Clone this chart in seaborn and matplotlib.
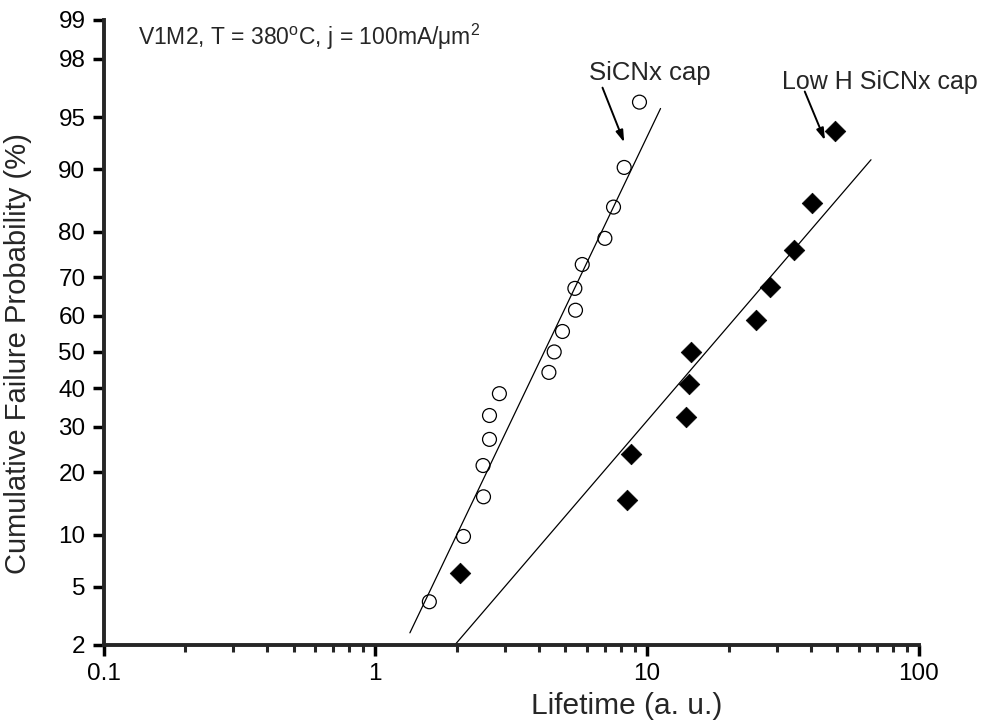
import numpy as np
import pandas as pd
import matplotlib
matplotlib.use("Agg")
import matplotlib.pyplot as plt
import matplotlib.ticker as mticker
import seaborn as sb
from statistics import NormalDist

# lifetimes (a.u.) and cumulative failure (%)
sicn_t = [1.58, 2.11, 2.50, 2.49, 2.63, 2.63, 2.86, 4.35, 4.55, 4.88,
          5.45, 5.42, 5.77, 6.99, 7.52, 8.23, 9.37]
sicn_p = [4.0, 9.8, 15.5, 21.3, 27.0, 32.8, 38.5, 44.3, 50.0, 55.7,
          61.5, 67.2, 73.0, 78.7, 84.5, 90.2, 96.0]

lowh_t = [2.04, 8.42, 8.71, 13.9, 14.3, 14.5, 25.1, 28.4, 34.7, 40.5, 49.1]
lowh_p = [6.1, 14.9, 23.7, 32.5, 41.2, 50.0, 58.8, 67.5, 76.3, 85.1, 93.9]

# fitted lognormal lines (end points)
sicn_fit_t = [1.34, 11.2]
sicn_fit_p = [2.45, 95.6]
lowh_fit_t = [1.96, 66.6]
lowh_fit_p = [2.0, 91.1]

yticks = [2, 5, 10, 20, 30, 40, 50, 60, 70, 80, 90, 95, 98, 99]
xticks = [0.1, 1, 10, 100]
xticklabels = ["0.1", "1", "10", "100"]

sb.set_style("ticks")
plt.rcParams['font.family'] = ['Liberation Sans', 'DejaVu Sans']
plt.rcParams['mathtext.fontset'] = 'custom'
plt.rcParams['mathtext.rm'] = 'Liberation Sans'
plt.rcParams['mathtext.it'] = 'Liberation Sans'

nd = NormalDist()
_ppf = np.vectorize(nd.inv_cdf, otypes=[float])
_cdf = np.vectorize(nd.cdf, otypes=[float])


def probit(p):
    p = np.clip(np.asarray(p, dtype=float) / 100.0, 1e-9, 1 - 1e-9)
    return _ppf(p)


def probit_inv(z):
    return _cdf(np.asarray(z, dtype=float)) * 100.0


fig = plt.figure(figsize=(10.07, 7.27), dpi=100)
ax = fig.add_axes([0.1028, 0.1128, 0.8098, 0.8597])
ax.set_xscale("log")
ax.set_yscale("function", functions=(probit, probit_inv))

sb.lineplot(x=sicn_fit_t, y=sicn_fit_p, ax=ax, color="black", lw=0.9,
            estimator=None, sort=False)
sb.lineplot(x=lowh_fit_t, y=lowh_fit_p, ax=ax, color="black", lw=0.9,
            estimator=None, sort=False)

sb.scatterplot(x=sicn_t, y=sicn_p, ax=ax, marker="o", s=100, color="black",
               facecolor="none", edgecolor="black", linewidth=0.9, zorder=3)
sb.scatterplot(x=lowh_t, y=lowh_p, ax=ax, marker="D", s=110, color="black",
               edgecolor="black", linewidth=0.5, zorder=3)

ax.set_xlim(0.1, 100)
ax.set_ylim(2, 99)

ax.xaxis.set_major_locator(mticker.FixedLocator(xticks))
ax.xaxis.set_major_formatter(mticker.FixedFormatter(xticklabels))
ax.xaxis.set_minor_locator(mticker.LogLocator(base=10, subs=np.arange(2, 10)))
ax.xaxis.set_minor_formatter(mticker.NullFormatter())
ax.yaxis.set_major_locator(mticker.FixedLocator(yticks))
ax.yaxis.set_major_formatter(mticker.FixedFormatter([str(v) for v in yticks]))
ax.yaxis.set_minor_locator(mticker.NullLocator())

sb.despine(ax=ax)
for s in ["left", "bottom"]:
    ax.spines[s].set_linewidth(2.8)
ax.tick_params(axis="both", which="major", direction="out", length=8,
               width=2.5, labelsize=17.5, colors="black", pad=5)
ax.tick_params(axis="x", which="minor", direction="out", length=5, width=2.2)

ax.set_xlabel("Lifetime (a. u.)", fontsize=21.5)
ax.set_ylabel("Cumulative Failure Probability (%)", fontsize=21)
ax.xaxis.set_label_coords(0.642, -0.075)
ax.yaxis.set_label_coords(-0.088, 0.467)

ax.text(0.042, 0.973, r"V1M2, T = 380$^{\mathrm{o}}$C, j = 100mA/μm$^{2}$",
        transform=ax.transAxes, fontsize=16.5, ha="left", va="center")
ax.text(0.595, 0.915, "SiCNx cap", transform=ax.transAxes, fontsize=18.5,
        ha="left", va="center")
ax.text(0.832, 0.901, "Low H SiCNx cap", transform=ax.transAxes, fontsize=18,
        ha="left", va="center")

arrow = dict(arrowstyle="-|>,head_length=0.7,head_width=0.22", color="black",
             lw=1.4, shrinkA=0, shrinkB=0)
ax.annotate("", xy=(8.23, 92.9), xytext=(6.85, 96.8), arrowprops=arrow)
ax.annotate("", xy=(45.1, 93.1), xytext=(38.0, 96.6), arrowprops=arrow)

fig.savefig("out.png", dpi=100)
